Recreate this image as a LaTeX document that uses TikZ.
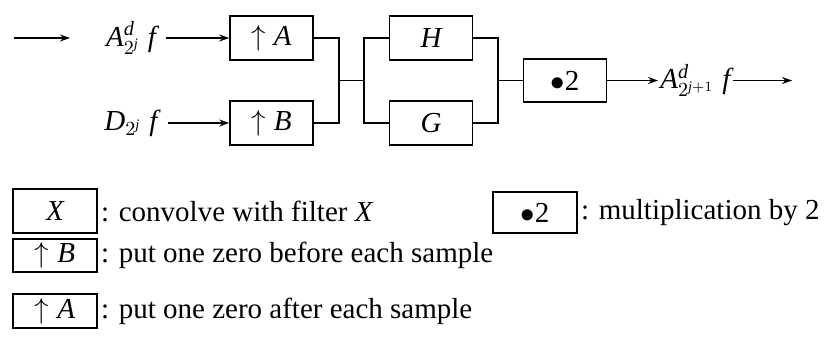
\documentclass[tikz,border=0pt]{standalone}
\usepackage{fontspec}
\setmainfont{Liberation Serif}
\usepackage{tikz}
\usetikzlibrary{arrows.meta, positioning}
\newcommand{\mi}[1]{\mathit{#1}}
\tikzset{
  blockbox/.style={
    draw, line width=0.8pt,
    minimum width=41.5pt, minimum height=22pt,
    inner sep=0pt, font=\fontsize{14.5}{17}\selectfont,
  },
  keybox/.style={
    draw, line width=0.7pt,
    minimum width=42pt, inner sep=0pt,
    font=\fontsize{14.5}{17}\selectfont,
  },
  sig/.style={inner sep=1pt, font=\fontsize{14.5}{17}\selectfont},
  keytext/.style={anchor=west, inner sep=1.5pt, font=\fontsize{14.5}{17}\selectfont},
  wire/.style={line width=0.8pt},
  arw/.style={-{Stealth[length=5pt, width=3.5pt]}, line width=0.8pt},
}

\begin{document}
\begin{tikzpicture}[x=0.5pt, y=-0.5pt]
  \useasboundingbox (0,0) rectangle (829,339);

  % inputs
  \coordinate (s0) at (14,38);
  \coordinate (s1) at (70,38);
  \node[sig] (aIn) at (131,38) {$\mi{A}^{\mi{d}}_{2^{\mi{j}}}\;\mi{f}$};
  \node[sig] (dIn) at (131,123) {$\mi{D}_{2^{\mi{j}}}\;\mi{f}$};

  % upsampling
  \node[blockbox] (upA) at (271.5,38) {$\uparrow \mi{A}$};
  \node[blockbox] (upB) at (271.5,123) {$\uparrow \mi{B}$};

  % filters
  \node[blockbox] (fH) at (431,38) {$\mi{H}$};
  \node[blockbox] (fG) at (431,123) {$\mi{G}$};

  % scaling and output
  \node[blockbox, minimum height=21.5pt] (mul) at (565,80.5) {$\bullet$2};
  \node[sig, anchor=west] (aOut) at (658,80.5) {$\mi{A}^{\mi{d}}_{2^{\mi{j}+1}}\;\mi{f}$};
  \coordinate (s2) at (792,80.5);

  \coordinate (j1) at (339,80.5);
  \coordinate (k1) at (364,80.5);
  \coordinate (j2) at (498,80.5);

  \draw[arw] (s0) -- (s1);
  \draw[arw, shorten <=4pt] (aIn.east) -- (upA.west);
  \draw[arw, shorten <=4pt] (dIn.east) -- (upB.west);
  \draw[wire] (upA.east) -| (j1) |- (upB.east);
  \draw[wire] (j1) -- (k1);
  \draw[wire] (fH.west) -| (k1) |- (fG.west);
  \draw[wire] (fH.east) -| (j2) |- (fG.east);
  \draw[wire] (j2) -- (mul.west);
  \draw[arw] (mul.east) -- (aOut.west);
  \draw[arw] (aOut.east) -- (s2);

  % legend
  \node[keybox, minimum height=22pt] (kX) at (55,211) {$\mi{X}$};
  \node[keytext] (tX) at (kX.east) {: convolve with filter $\mi{X}$};
  \node[keybox, minimum height=16.5pt] (kB) at (55,255.5) {$\uparrow \mi{B}$};
  \node[keytext] (tB) at (kB.east) {: put one zero before each sample};
  \node[keybox, minimum height=17pt] (kA) at (55,311) {$\uparrow \mi{A}$};
  \node[keytext] (tA) at (kA.east) {: put one zero after each sample};
  \node[keybox, minimum height=20.5pt] (kM) at (535,212.5) {$\bullet$2};
  \node[keytext] (tM) at (kM.east) {: multiplication by 2};

\end{tikzpicture}
\end{document}
